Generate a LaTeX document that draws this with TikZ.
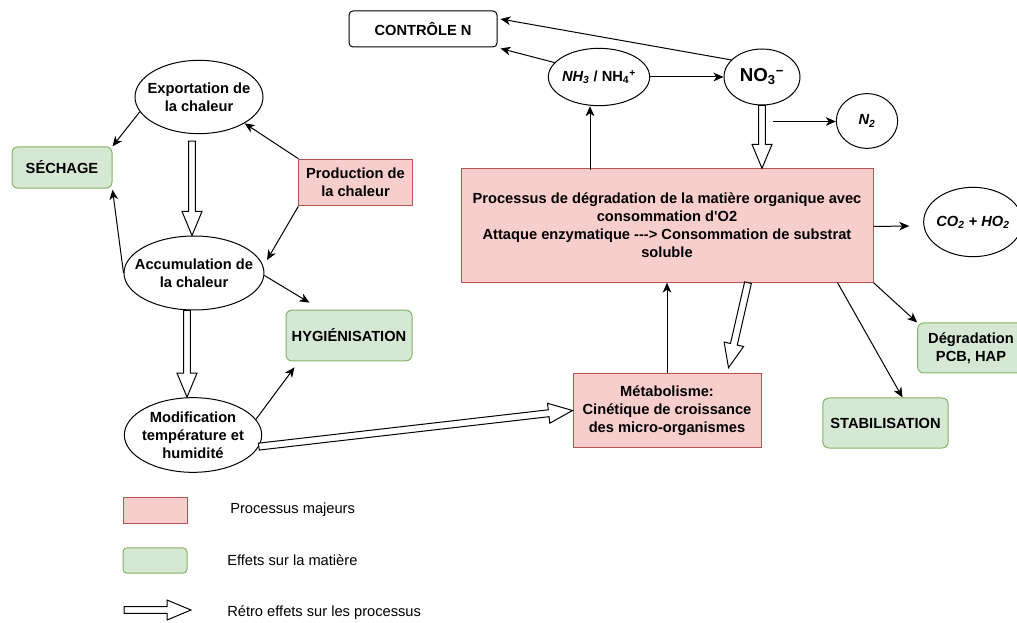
\documentclass[tikz,border=0pt]{standalone}
\usepackage{fontspec}
\setmainfont{Liberation Sans}
\usetikzlibrary{shapes.geometric,arrows.meta,calc}
\definecolor{procfill}{HTML}{F8CECC}
\definecolor{procline}{HTML}{B85450}
\definecolor{effill}{HTML}{D5E8D4}
\definecolor{efline}{HTML}{82B366}

% open "fat" arrow from coordinate #1 to coordinate #2
\newcommand\fatarrow[2]{%
  \coordinate (fa-base) at ($(#2)!18pt!(#1)$);
  \draw[fatline]
    ($(#1)!2.6pt!90:(#2)$) -- ($(fa-base)!2.6pt!90:(#2)$) --
    ($(fa-base)!7.5pt!90:(#2)$) -- (#2) --
    ($(fa-base)!7.5pt!-90:(#2)$) -- ($(fa-base)!2.6pt!-90:(#2)$) --
    ($(#1)!2.6pt!-90:(#2)$) -- cycle;}

\begin{document}
\begin{tikzpicture}[x=0.75pt,y=-0.75pt,
  base/.style={font=\fontsize{11}{13.5}\selectfont\bfseries, align=center,
    inner sep=0pt, line width=0.75pt},
  ell/.style={base, draw, ellipse, fill=white},
  txt/.style={base},
  proc/.style={base, draw=procline, fill=procfill, rectangle},
  eff/.style={base, draw=efline, fill=effill, rectangle, rounded corners=4.5pt},
  plain/.style={base, draw, fill=white, rectangle, rounded corners=3pt},
  conn/.style={-{Stealth[length=7.5pt,width=6.5pt,inset=2.2pt]}, line width=0.75pt},
  fatline/.style={draw=black, fill=white, line width=0.75pt, line join=miter},
  legtext/.style={font=\fontsize{11}{13}\selectfont, anchor=west, inner sep=0pt}]
\useasboundingbox (0,0) rectangle (1017,623);

% --- nitrogen side
\node[plain, minimum width=111pt, minimum height=27pt] (ctrl) at (423,29) {CONTRÔLE N};
\node[ell, minimum width=76pt, minimum height=43pt] (nh) at (599,77) {};
\node[txt] (nh-t) at (nh) {{\itshape NH\textsubscript{3}} / NH\textsubscript{4}\textsuperscript{+}};
\node[ell, minimum width=57pt, minimum height=42pt] (no3) at (762,77) {};
\node[txt, font=\fontsize{14}{16}\selectfont\bfseries] (no3-t) at (no3) {NO\textsubscript{3}\textsuperscript{−}};
\node[ell, minimum width=46pt, minimum height=41pt] (n2) at (867,121) {};
\node[txt] (n2-t) at (n2) {\itshape N\textsubscript{2}};

% --- main process
\node[proc, minimum width=309pt, minimum height=85pt] (big) at (667,225.5)
  {Processus de dégradation de la matière organique avec\\
   consommation d\textquotesingle O2\\
   Attaque enzymatique {-}{-}{-}> Consommation de substrat\\
   soluble};
\node[ell, minimum width=74pt, minimum height=52pt] (co2) at (973,222) {};
\node[txt] (co2-t) at (co2) {\itshape CO\textsubscript{2} + HO\textsubscript{2}};
\node[eff, minimum width=80pt, minimum height=37.5pt] (pcb) at (971,348) {Dégradation\\PCB, HAP};
\node[eff, minimum width=94pt, minimum height=37.5pt] (stab) at (885.5,423) {STABILISATION};
\node[proc, minimum width=141pt, minimum height=56pt] (meta) at (667,410.5)
  {Métabolisme:\\Cinétique de croissance\\des micro-organismes};

% --- heat side
\node[ell, minimum width=96pt, minimum height=55pt] (export) at (199,97) {};
\node[txt] (export-t) at (export) {Exportation de\\la chaleur};
\node[ell, minimum width=105pt, minimum height=55.5pt] (accum) at (194,273) {};
\node[txt] (accum-t) at (accum) {Accumulation de\\la chaleur};
\node[ell, minimum width=103pt, minimum height=56pt] (modif) at (193,435) {};
\node[txt] (modif-t) at (modif) {Modification\\température et\\humidité};
\node[eff, minimum width=75pt, minimum height=31pt] (sech) at (62,167.5) {SÉCHAGE};
\node[proc, minimum width=85pt, minimum height=35pt] (prod) at (355.5,182.5) {Production de\\la chaleur};
\node[eff, minimum width=94.5pt, minimum height=38pt] (hyg) at (349,335.5) {HYGIÉNISATION};

% --- plain connectors
\draw[conn] (no3.151) -- ($(ctrl.east)+(3,-10)$);
\draw[conn] (nh.162) -- ($(ctrl.south east)+(3,1)$);
\draw[conn] (nh.east) -- (no3.west);
\draw[conn] ($(nh.south)+(-9,64)$) -- ($(nh.south)+(-9,0)$);
\coordinate (nsrc) at ($(no3.south)+(11,16)$);
\draw[conn] (nsrc) -- (nsrc -| n2.west);
\draw[conn] ($(big.east)+(0,1)$) -- ($(co2.west)+(-14,4)$);
\draw[conn] (big.south east) -- (pcb.north west);
\draw[conn] ($(big.south east)+(-36,0)$) -- ($(stab.north)+(17,0)$);
\draw[conn] (meta.north) -- (big.south);
\draw[conn] (modif.14) -- ($(hyg.south west)+(9,6)$);
\draw[conn] (accum.-2) -- ($(hyg.north west)+(24,-7)$);
\draw[conn] (export.194) -- (sech.north east);
\draw[conn] (accum.west) -- ($(sech.south east)+(0,1)$);
\draw[conn] (prod.north west) -- (export.-30);
\draw[conn] (prod.south west) -- ($(accum.center)+(73,-13)$);

% --- feedback arrows
\coordinate (f1a) at (no3.south);
\coordinate (f1b) at (big.north -| no3.south);
\fatarrow{f1a}{f1b}
\coordinate (f2a) at ($(big.south)+(81,0)$);
\coordinate (f2b) at ($(meta.north east)+(-33,-5)$);
\fatarrow{f2a}{f2b}
\coordinate (f3a) at (modif.-10);
\coordinate (f3b) at (meta.west);
\fatarrow{f3a}{f3b}
\coordinate (f4a) at ($(accum.south)+(-7,0)$);
\coordinate (f4b) at ($(modif.north)+(-6,0)$);
\fatarrow{f4a}{f4b}
\coordinate (f5a) at ($(export.south)+(-7,7)$);
\coordinate (f5b) at ($(accum.north)+(-2,0)$);
\fatarrow{f5a}{f5b}

% --- legend
\node[proc, minimum width=48pt, minimum height=19pt] (lgproc) at (155,510.5) {};
\node[eff, rounded corners=3pt, minimum width=48pt, minimum height=19pt] (lgeff) at (155,560.5) {};
\coordinate (lga) at (124,610);
\coordinate (lgb) at (191,610);
\fatarrow{lga}{lgb}
\node[legtext] (t1) at (230,510) {Processus majeurs};
\node[legtext] (t2) at (227,560) {Effets sur la matière};
\node[legtext] (t3) at (227,613) {Rétro effets sur les processus};
\end{tikzpicture}
\end{document}
